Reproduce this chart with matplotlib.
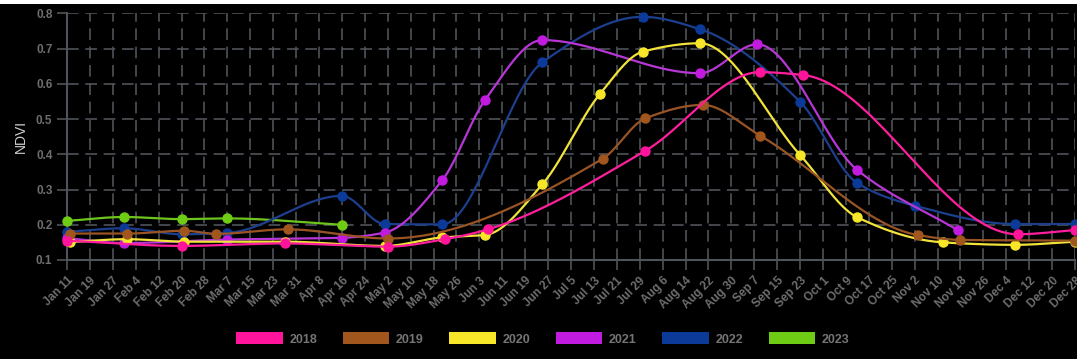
import numpy as np
import pandas as pd
import matplotlib
matplotlib.use("Agg")
import matplotlib.pyplot as plt
import matplotlib.dates as mdates
from matplotlib.patches import Patch, Rectangle


# all years are placed on one (leap) calendar year axis
AXIS_YEAR = "2020"

YEARS = ["2018", "2019", "2020", "2021", "2022", "2023"]
COLORS = ["#ff149b", "#a0561c", "#f7e728", "#c11be0", "#0b3a98", "#6fcc14"]
LINE_COLORS = ["#ff1f9e", "#9a5424", "#f2e33a", "#b736d6", "#1c3f8e", "#6cc41c"]

dates_2018 = ["01-11", "02-20", "03-27", "05-02", "05-22", "06-06", "07-31", "09-09", "09-24", "12-08", "12-28"]
ndvi_2018 = [0.155, 0.140, 0.147, 0.138, 0.159, 0.187, 0.410, 0.633, 0.625, 0.173, 0.185]

dates_2019 = ["01-12", "02-01", "02-21", "03-03", "03-28", "05-02", "07-16", "07-31", "08-20", "09-09", "11-03", "11-18", "12-28"]
ndvi_2019 = [0.175, 0.175, 0.183, 0.174, 0.187, 0.161, 0.387, 0.502, 0.540, 0.453, 0.171, 0.157, 0.155]

dates_2020 = ["01-12", "02-01", "02-21", "03-27", "05-01", "05-21", "06-05", "06-25", "07-15", "07-30", "08-19", "09-23", "10-13", "11-12", "12-07", "12-28"]
ndvi_2020 = [0.151, 0.159, 0.152, 0.152, 0.140, 0.164, 0.171, 0.315, 0.570, 0.691, 0.715, 0.398, 0.221, 0.150, 0.143, 0.152]

dates_2021 = ["01-11", "01-31", "03-07", "04-16", "05-01", "05-21", "06-05", "06-25", "08-19", "09-08", "10-13", "11-17"]
ndvi_2021 = [0.162, 0.148, 0.158, 0.163, 0.178, 0.326, 0.554, 0.724, 0.630, 0.712, 0.355, 0.185]

dates_2022 = ["01-11", "01-31", "02-20", "03-07", "04-16", "05-01", "05-21", "06-25", "07-30", "08-19", "09-23", "10-13", "11-02", "12-07", "12-28"]
ndvi_2022 = [0.180, 0.190, 0.173, 0.177, 0.282, 0.202, 0.201, 0.661, 0.790, 0.755, 0.549, 0.318, 0.254, 0.202, 0.202]

dates_2023 = ["01-11", "01-31", "02-20", "03-07", "04-16"]
ndvi_2023 = [0.211, 0.222, 0.216, 0.218, 0.200]

SERIES = [
    (dates_2018, ndvi_2018),
    (dates_2019, ndvi_2019),
    (dates_2020, ndvi_2020),
    (dates_2021, ndvi_2021),
    (dates_2022, ndvi_2022),
    (dates_2023, ndvi_2023),
]

Y_TICKS = [0.1, 0.2, 0.3, 0.4, 0.5, 0.6, 0.7, 0.8]
FIRST_TICK = "01-11"
LAST_TICK = "12-28"
TICK_STEP_DAYS = 8


def to_num(month_days):
    return mdates.date2num(pd.to_datetime([f"{AXIS_YEAR}-{d}" for d in month_days]))


def pchip_curve(x, y, n=40):
    # monotone cubic (Fritsch-Carlson) so the drawn line passes through every point
    x = np.asarray(x, dtype=float)
    y = np.asarray(y, dtype=float)
    if len(x) < 3:
        return x, y
    h = np.diff(x)
    delta = np.diff(y) / h
    m = np.zeros_like(y)
    for i in range(1, len(x) - 1):
        if delta[i - 1] * delta[i] > 0:
            w1 = 2 * h[i] + h[i - 1]
            w2 = h[i] + 2 * h[i - 1]
            m[i] = (w1 + w2) / (w1 / delta[i - 1] + w2 / delta[i])
    m[0] = delta[0]
    m[-1] = delta[-1]

    xs, ys = [], []
    for i in range(len(x) - 1):
        t = np.linspace(0, 1, n, endpoint=False)
        h00 = 2 * t**3 - 3 * t**2 + 1
        h10 = t**3 - 2 * t**2 + t
        h01 = -2 * t**3 + 3 * t**2
        h11 = t**3 - t**2
        xs.append(x[i] + t * h[i])
        ys.append(h00 * y[i] + h10 * h[i] * m[i] + h01 * y[i + 1] + h11 * h[i] * m[i + 1])
    xs.append([x[-1]])
    ys.append([y[-1]])
    return np.concatenate(xs), np.concatenate(ys)


def main():
    plt.rcParams["font.family"] = ["Liberation Sans", "DejaVu Sans"]

    fig = plt.figure(figsize=(10.77, 3.59), dpi=100, facecolor="black")
    fig.patches.append(Rectangle((0, 1 - 4 / 359), 1, 4 / 359, transform=fig.transFigure,
                                 facecolor="white", edgecolor="none", zorder=0))

    ax = fig.add_axes([67 / 1077, 1 - 260 / 359, 1008 / 1077, 246.7 / 359])
    ax.set_facecolor("black")

    first = mdates.date2num(pd.Timestamp(f"{AXIS_YEAR}-{FIRST_TICK}"))
    last = mdates.date2num(pd.Timestamp(f"{AXIS_YEAR}-{LAST_TICK}"))
    tick_pos = np.arange(first, last + 1, TICK_STEP_DAYS)
    tick_labels = [mdates.num2date(t).strftime("%b %-d") for t in tick_pos]

    n_series = len(SERIES)
    for i, (dates, values) in enumerate(SERIES):
        x = to_num(dates)
        xs, ys = pchip_curve(x, values)
        z = 10 + (n_series - i) * 2
        ax.plot(xs, ys, color=LINE_COLORS[i], linewidth=1.6, zorder=z, clip_on=False)
        ax.plot(x, values, linestyle="none", marker="o", markersize=6.5,
                color=COLORS[i], zorder=z + 1, clip_on=False)

    ax.set_xlim(first, last)
    ax.set_ylim(0.1, 0.8)

    ax.set_xticks(tick_pos)
    ax.set_xticklabels(tick_labels, rotation=45, ha="right", rotation_mode="anchor")
    ax.set_yticks(Y_TICKS)
    ax.set_yticklabels([f"{v:.1f}" for v in Y_TICKS])

    ax.tick_params(axis="both", colors="#4f545a", length=7, width=1.2,
                   labelcolor="#6e6e6e", labelsize=8.5)
    for label in ax.get_xticklabels() + ax.get_yticklabels():
        label.set_fontweight("bold")

    ax.grid(True, color="#4f545a", linestyle=(0, (7, 4)), linewidth=1.2)
    ax.set_axisbelow(True)

    for side in ["top", "right"]:
        ax.spines[side].set_visible(False)
    for side in ["left", "bottom"]:
        ax.spines[side].set_color("#4f545a")
        ax.spines[side].set_linewidth(1.5)

    ax.set_ylabel("NDVI", color="#cfcfcf", fontsize=10, labelpad=6)

    handles = [Patch(facecolor=c, edgecolor="none", label=y) for c, y in zip(COLORS, YEARS)]
    legend = fig.legend(handles=handles, loc="center", ncol=6,
                        bbox_to_anchor=(543 / 1077, 1 - 339 / 359),
                        frameon=False, fontsize=9, handlelength=3.7, handleheight=1.1,
                        handletextpad=0.55, columnspacing=2.05,
                        prop={"weight": "bold", "size": 9})
    for text in legend.get_texts():
        text.set_color("#757575")

    fig.savefig("out.png", dpi=100, facecolor="black")
    plt.close(fig)


if __name__ == "__main__":
    main()
